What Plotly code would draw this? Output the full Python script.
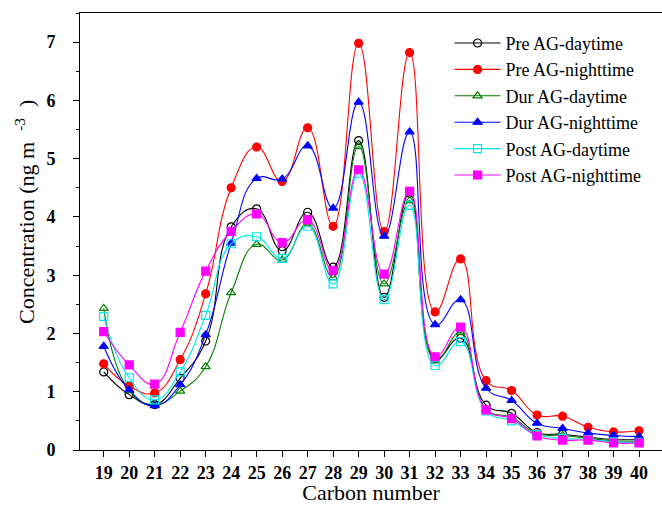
import plotly.graph_objects as go

carbon = list(range(19, 41))

pre_day = [1.34, 0.95, 0.78, 1.23, 1.87, 3.83, 4.14, 3.42, 4.08, 3.14, 5.31, 2.62, 4.41, 1.57, 1.92, 0.77, 0.63, 0.30, 0.27, 0.22, 0.18, 0.18]
pre_night = [1.48, 1.10, 0.98, 1.55, 2.68, 4.50, 5.20, 4.61, 5.53, 3.84, 6.98, 3.75, 6.82, 2.37, 3.28, 1.19, 1.02, 0.60, 0.58, 0.39, 0.31, 0.33]
dur_day = [2.43, 1.02, 0.78, 1.01, 1.43, 2.70, 3.53, 3.26, 3.88, 2.96, 5.21, 2.85, 4.28, 1.53, 2.02, 0.70, 0.56, 0.28, 0.25, 0.20, 0.16, 0.15]
dur_night = [1.78, 1.03, 0.76, 1.12, 1.98, 3.55, 4.66, 4.65, 5.22, 4.15, 5.97, 3.67, 5.46, 2.15, 2.58, 1.06, 0.85, 0.46, 0.37, 0.29, 0.25, 0.23]
post_day = [2.29, 1.24, 0.86, 1.34, 2.31, 3.54, 3.66, 3.29, 3.84, 2.85, 4.75, 2.58, 4.20, 1.45, 1.86, 0.67, 0.50, 0.26, 0.20, 0.18, 0.14, 0.13]
post_night = [2.03, 1.46, 1.13, 2.02, 3.07, 3.75, 4.05, 3.56, 3.95, 3.08, 4.81, 3.02, 4.44, 1.60, 2.11, 0.69, 0.54, 0.24, 0.17, 0.17, 0.12, 0.12]

series = [
    ("Pre AG-daytime", pre_day, "#000000", "circle-open"),
    ("Pre AG-nighttime", pre_night, "#ff0000", "circle"),
    ("Dur AG-daytime", dur_day, "#008000", "triangle-up-open"),
    ("Dur AG-nighttime", dur_night, "#0000ff", "triangle-up"),
    ("Post AG-daytime", post_day, "#00e5ee", "square-open"),
    ("Post AG-nighttime", post_night, "#ff00ff", "square"),
]

fig = go.Figure()
for name, vals, color, sym in series:
    fig.add_trace(go.Scatter(
        x=carbon, y=vals, name=name, mode="lines+markers",
        line=dict(color=color, width=1.1, shape="spline", smoothing=1.3),
        marker=dict(symbol=sym, size=8, color=color, line=dict(color=color, width=1.2)),
    ))

font = "Liberation Serif, Times New Roman, serif"
fig.update_layout(
    width=662, height=505,
    margin=dict(l=80, r=0, t=13, b=55),
    plot_bgcolor="white", paper_bgcolor="white",
    font=dict(family=font, color="black"),
    showlegend=True,
    legend=dict(x=0.635, y=0.973, xanchor="left", yanchor="top",
                font=dict(family=font, size=18, color="black"),
                bgcolor="rgba(0,0,0,0)", itemwidth=46, tracegroupgap=0),
    annotations=[
        dict(text="Concentration (ng m  <sup>-3</sup>  )", textangle=-90,
             xref="paper", yref="paper", x=(25 - 80) / 582, y=(450 - 212) / 437,
             xanchor="center", yanchor="middle", showarrow=False,
             font=dict(family=font, size=22, color="black")),
    ],
)
fig.update_xaxes(
    range=[18.07, 40.9], tickvals=carbon, ticktext=[str(c) for c in carbon],
    ticks="outside", ticklen=6, tickwidth=1, tickcolor="black",
    showline=True, linecolor="black", linewidth=1, mirror=True,
    showgrid=False, zeroline=False,
    tickfont=dict(family=font, size=18, color="black", weight="bold"),
    title=dict(text="Carbon number", font=dict(family=font, size=22, color="black"), standoff=2),
)
fig.update_yaxes(
    range=[0, 7.5], dtick=1, tick0=0,
    ticks="outside", ticklen=6, tickwidth=1, tickcolor="black",
    minor=dict(dtick=0.5, ticks="outside", ticklen=3, tickcolor="black"),
    showline=True, linecolor="black", linewidth=1,
    showgrid=False, zeroline=False, ticklabelstandoff=14,
    tickfont=dict(family=font, size=18, color="black", weight="bold"),
)

fig.write_html("out.html")
